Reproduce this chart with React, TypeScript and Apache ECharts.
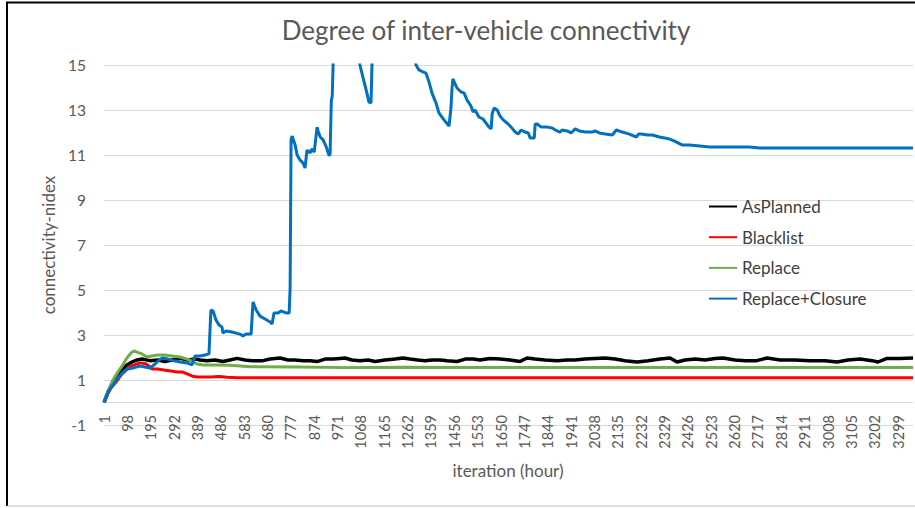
import React, { useEffect, useRef } from "react";
import * as echarts from "echarts";

const CATEGORY_COUNT = 3361;
const iterations: string[] = Array.from({ length: CATEGORY_COUNT }, (_, i) => String(i + 1));

const titleText = "Degree of inter-vehicle connectivity";
const xAxisName = "iteration (hour)";
const yAxisName = "connectivity-nidex";
const yMin = -1;
const yMax = 15;
const yStep = 2;

const seriesNames = ["AsPlanned", "Blacklist", "Replace", "Replace+Closure"];
const seriesColors = ["#000000", "#FF0000", "#70AD47", "#0070C0"];

// [iteration, value]
const asPlanned: [number, number][] = [
  [1, 0], [18, 0.47], [38, 0.91], [55, 1.13], [76, 1.44], [96, 1.67], [117, 1.8], [138, 1.89],
  [159, 1.93], [192, 1.86], [225, 1.89], [254, 1.82], [283, 1.89], [317, 1.96], [350, 1.89],
  [379, 1.93], [400, 1.89], [429, 1.86], [462, 1.89], [495, 1.82], [524, 1.89], [553, 1.96],
  [587, 1.89], [616, 1.86], [661, 1.86], [690, 1.93], [732, 1.98], [765, 1.89], [794, 1.89],
  [828, 1.86], [857, 1.86], [886, 1.82], [919, 1.93], [952, 1.93], [981, 1.96], [1002, 1.98],
  [1031, 1.89], [1064, 1.86], [1098, 1.89], [1127, 1.82], [1168, 1.89], [1210, 1.93], [1243, 1.98],
  [1272, 1.93], [1305, 1.89], [1334, 1.86], [1363, 1.89], [1397, 1.89], [1426, 1.86], [1467, 1.82],
  [1501, 1.93], [1534, 1.93], [1563, 1.89], [1604, 1.96], [1646, 1.93], [1687, 1.89], [1729, 1.82],
  [1758, 1.98], [1791, 1.93], [1833, 1.89], [1883, 1.86], [1924, 1.89], [1957, 1.89], [1999, 1.93],
  [2040, 1.96], [2082, 1.98], [2124, 1.93], [2165, 1.86], [2215, 1.8], [2261, 1.86], [2310, 1.93],
  [2352, 1.98], [2381, 1.8], [2414, 1.89], [2456, 1.93], [2497, 1.89], [2539, 1.96], [2572, 1.98],
  [2622, 1.89], [2664, 1.86], [2713, 1.86], [2755, 1.98], [2809, 1.89], [2871, 1.89], [2934, 1.86],
  [2996, 1.86], [3046, 1.8], [3091, 1.89], [3141, 1.93], [3191, 1.86], [3216, 1.8], [3253, 1.96],
  [3307, 1.96], [3361, 1.98],
];

const blacklist: [number, number][] = [
  [1, 0], [18, 0.42], [30, 0.64], [51, 0.91], [72, 1.22], [92, 1.44], [113, 1.62], [134, 1.71],
  [155, 1.76], [176, 1.71], [188, 1.62], [200, 1.49], [221, 1.49], [250, 1.44], [279, 1.4],
  [304, 1.36], [325, 1.36], [346, 1.27], [366, 1.18], [387, 1.13], [416, 1.13], [445, 1.13],
  [479, 1.16], [512, 1.12], [554, 1.1], [604, 1.1], [728, 1.1], [1500, 1.1], [3361, 1.1],
];

const replace: [number, number][] = [
  [1, 0], [18, 0.51], [38, 1.0], [59, 1.36], [76, 1.62], [96, 1.98], [113, 2.2], [125, 2.29],
  [138, 2.24], [159, 2.16], [180, 2.02], [200, 2.07], [225, 2.11], [254, 2.11], [283, 2.07],
  [317, 2.02], [346, 1.93], [366, 1.84], [387, 1.71], [412, 1.67], [462, 1.67], [525, 1.66],
  [608, 1.59], [816, 1.58], [994, 1.55], [1230, 1.57], [1600, 1.56], [3361, 1.56],
];

const replaceClosure: [number, number][] = [
  [1, 0], [18, 0.47], [38, 0.78], [59, 1.09], [80, 1.36], [100, 1.49], [121, 1.53], [150, 1.62],
  [171, 1.58], [192, 1.53], [213, 1.71], [234, 1.93], [246, 1.98], [267, 1.93], [296, 1.84],
  [317, 1.8], [346, 1.76], [366, 1.67], [379, 2.07], [400, 2.07], [420, 2.11], [437, 2.16],
  [445, 4.11], [454, 4.07], [466, 3.67], [479, 3.44], [491, 3.36], [495, 3.09], [508, 3.18],
  [532, 3.13], [566, 3.04], [578, 2.96], [591, 3.04], [612, 3.04], [620, 4.47], [633, 4.11],
  [649, 3.84], [670, 3.71], [691, 3.58], [699, 3.49], [707, 3.98], [724, 3.98], [736, 4.07],
  [757, 3.98], [770, 3.98], [774, 5.09], [778, 11.67], [782, 11.84], [795, 11.44], [803, 11.0],
  [815, 10.78], [828, 10.64], [836, 10.42], [844, 11.22], [857, 11.09], [865, 11.27], [874, 11.13],
  [886, 12.24], [890, 12.07], [899, 11.8], [911, 11.67], [924, 11.36], [936, 10.96], [940, 11.04],
  [945, 13.4], [949, 13.62], [953, 15.2], [961, 16.5], [1000, 17.0], [1040, 16.6], [1060, 15.3],
  [1064, 15.0], [1076, 14.47], [1093, 13.75], [1101, 13.36], [1110, 13.31], [1114, 15.0],
  [1130, 16.8], [1200, 17.5], [1260, 16.5], [1290, 15.3], [1297, 15.0], [1309, 14.78],
  [1326, 14.69], [1338, 14.64], [1351, 14.24], [1363, 13.76], [1375, 13.44], [1380, 13.31],
  [1392, 12.87], [1413, 12.56], [1434, 12.29], [1442, 13.09], [1446, 13.89], [1450, 14.38],
  [1459, 14.16], [1467, 13.98], [1484, 13.8], [1496, 13.76], [1509, 13.44], [1525, 13.18],
  [1534, 12.91], [1542, 13.0], [1558, 12.69], [1575, 12.6], [1588, 12.42], [1600, 12.24],
  [1609, 12.16], [1613, 12.82], [1621, 13.09], [1634, 13.0], [1646, 12.73], [1659, 12.56],
  [1675, 12.42], [1692, 12.24], [1709, 12.02], [1721, 11.93], [1734, 12.11], [1750, 12.02],
  [1763, 11.98], [1771, 11.76], [1788, 11.76], [1792, 12.38], [1800, 12.38], [1817, 12.24],
  [1842, 12.24], [1862, 12.2], [1883, 12.07], [1895, 12.02], [1904, 12.11], [1925, 12.07],
  [1941, 11.98], [1958, 12.16], [1975, 12.07], [2000, 12.02], [2029, 12.02], [2041, 12.07],
  [2058, 11.98], [2083, 11.93], [2112, 11.89], [2129, 12.11], [2154, 12.02], [2183, 11.93],
  [2212, 11.8], [2221, 11.93], [2233, 11.93], [2258, 11.89], [2279, 11.89], [2308, 11.8],
  [2329, 11.76], [2350, 11.71], [2371, 11.62], [2387, 11.53], [2404, 11.44], [2433, 11.44],
  [2475, 11.4], [2516, 11.36], [2599, 11.36], [2682, 11.36], [2724, 11.31], [2890, 11.31],
  [3361, 11.31],
];

const seriesValues = [asPlanned, blacklist, replace, replaceClosure];

const FONT = "Lato, 'Noto Sans', sans-serif";

export default function App() {
  const ref = useRef<HTMLDivElement>(null);

  useEffect(() => {
    document.body.style.margin = "0";
    if (!ref.current) return;
    const chart = echarts.init(ref.current, undefined, { renderer: "svg" });
    chart.setOption({
      animation: false,
      backgroundColor: "#ffffff",
      title: {
        text: titleText,
        left: 481,
        textAlign: "center",
        top: 12,
        textStyle: { color: "#595959", fontSize: 26, fontWeight: "normal", fontFamily: FONT },
      },
      legend: {
        orient: "vertical",
        left: 708,
        top: 198,
        padding: 0,
        itemGap: 13.7,
        itemWidth: 28,
        itemHeight: 14,
        data: seriesNames,
        itemStyle: { color: "rgba(0,0,0,0)", borderWidth: 0, opacity: 0 },
        textStyle: { color: "#404040", fontSize: 17, fontFamily: FONT },
      },
      grid: { left: 104, right: 2, top: 65, bottom: 508 - 425, containLabel: false },
      xAxis: {
        type: "category",
        data: iterations,
        boundaryGap: false,
        axisLine: { onZero: true, lineStyle: { color: "#d9d9d9", width: 1 } },
        axisTick: { show: false },
        splitLine: { show: false },
        axisLabel: {
          interval: 96,
          rotate: 90,
          margin: -10,
          color: "#595959",
          fontSize: 14.5,
          fontFamily: FONT,
        },
      },
      yAxis: {
        type: "value",
        min: yMin,
        max: yMax,
        interval: yStep,
        name: yAxisName,
        nameLocation: "middle",
        nameGap: 42,
        nameTextStyle: { color: "#595959", fontSize: 17, fontFamily: FONT },
        axisLine: { show: false },
        axisTick: { show: false },
        splitLine: { lineStyle: { color: "#d9d9d9", width: 1 } },
        axisLabel: { margin: 18, color: "#595959", fontSize: 15.5, fontFamily: FONT },
      },
      series: seriesNames.map((name, k) => ({
        name,
        type: "line",
        data: seriesValues[k].map(([it, v]) => [it - 1, v]),
        showSymbol: false,
        clip: true,
        color: seriesColors[k],
        lineStyle: { color: seriesColors[k], width: k === 0 ? 3.5 : 3 },
      })),
      graphic: [
        {
          type: "text",
          x: 508,
          y: 470,
          style: {
            text: xAxisName,
            fill: "#595959",
            fontSize: 17,
            fontFamily: FONT,
            align: "center",
            verticalAlign: "middle",
          },
        },
        { type: "line", shape: { x1: 6, y1: 2.5, x2: 915, y2: 2.5 }, style: { stroke: "#000000", lineWidth: 2 } },
        { type: "line", shape: { x1: 7, y1: 2, x2: 7, y2: 506 }, style: { stroke: "#000000", lineWidth: 2 } },
        { type: "line", shape: { x1: 7, y1: 506, x2: 915, y2: 506 }, style: { stroke: "#bfbfbf", lineWidth: 1 } },
      ],
    });
    return () => chart.dispose();
  }, []);

  return <div ref={ref} style={{ width: 915, height: 508 }} />;
}
